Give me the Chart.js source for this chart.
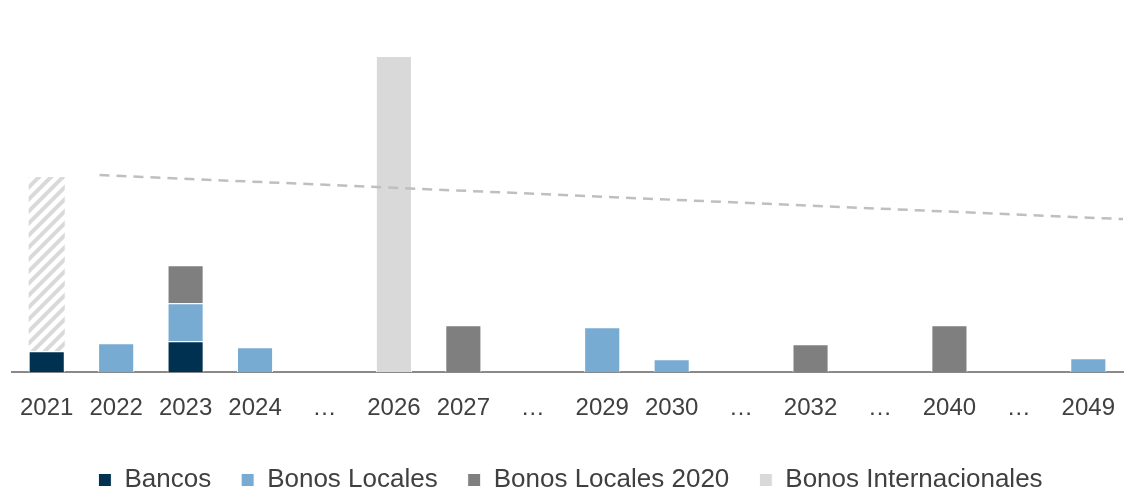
<!DOCTYPE html>
<html>
<head>
<meta charset="utf-8">
<script src="https://cdn.jsdelivr.net/npm/chart.js@4/dist/chart.umd.min.js"></script>
<style>
  html, body { margin: 0; padding: 0; background: #ffffff; }
  #wrap { width: 1129px; height: 491px; position: relative; }
</style>
</head>
<body>
<div id="wrap"><canvas id="chart"></canvas></div>
<script>
// Categorías del eje X
const labels = ["2021", "2022", "2023", "2024", "…", "2026", "2027", "…", "2029", "2030", "…", "2032", "…", "2040", "…", "2049"];

// Vencimientos por fuente (unidades aproximadas)
const bancos = [210, null, 310, null, null, null, null, null, null, null, null, null, null, null, null, null];
const bonosLocales = [null, 290, 380, 250, null, null, null, null, 450, 130, null, null, null, null, null, 140];
const bonosLocales2020 = [null, null, 380, null, null, null, 470, null, null, null, null, 280, null, 470, null, null];
const bonosInternacionales = [null, null, null, null, null, 3160, null, null, null, null, null, null, null, null, null, null];
const pendiente2021 = [1740, null, null, null, null, null, null, null, null, null, null, null, null, null, null, null];

// Línea de referencia punteada (posición en el eje de categorías, valor)
const lineX = [0.76, 15.5];
const lineValues = [1970, 1530];

function makeHatch() {
  const c = document.createElement("canvas");
  c.width = 12;
  c.height = 12;
  const g = c.getContext("2d");
  g.fillStyle = "#ffffff";
  g.fillRect(0, 0, 12, 12);
  g.strokeStyle = "#d9d9d9";
  g.lineWidth = 4;
  g.beginPath();
  g.moveTo(-2, 14); g.lineTo(14, -2);
  g.moveTo(-8, 8); g.lineTo(8, -8);
  g.moveTo(4, 20); g.lineTo(20, 4);
  g.stroke();
  return g.createPattern(c, "repeat");
}

function createChart() {
  const ctx = document.getElementById("chart");
  const hatch = makeHatch();

  const barCommon = {
    type: "bar",
    borderColor: "#ffffff",
    borderWidth: 1,
    barPercentage: 0.52,
    categoryPercentage: 1.0,
    grouped: false,
    stack: "s",
    order: 1,
  };

  new Chart(ctx, {
    type: "bar",
    data: {
      labels: labels,
      datasets: [
        Object.assign({}, barCommon, { label: "Bancos", data: bancos, backgroundColor: "#003150" }),
        Object.assign({}, barCommon, { label: "Bonos Locales", data: bonosLocales, backgroundColor: "#78abd2" }),
        Object.assign({}, barCommon, { label: "Bonos Locales 2020", data: bonosLocales2020, backgroundColor: "#7f7f7f" }),
        Object.assign({}, barCommon, { label: "Bonos Internacionales", data: bonosInternacionales, backgroundColor: "#d9d9d9" }),
        Object.assign({}, barCommon, { label: "hatch", data: pendiente2021, backgroundColor: hatch, borderWidth: 0 }),
        {
          type: "line",
          label: "linea",
          data: lineX.map((x, i) => ({ x: x, y: lineValues[i] })),
          xAxisID: "xl",
          borderColor: "#bfbfbf",
          borderWidth: 2.5,
          borderDash: [10, 7],
          pointRadius: 0,
          fill: false,
          order: 0,
        },
      ],
    },
    options: {
      responsive: true,
      maintainAspectRatio: false,
      animation: false,
      layout: {
        padding: { left: 12, right: 0, top: 22, bottom: -12 },
      },
      scales: {
        x: {
          type: "category",
          offset: true,
          stacked: true,
          grid: { display: false },
          border: { display: true, color: "#898989", width: 2 },
          ticks: {
            color: "#404040",
            font: { family: "Liberation Sans", size: 24 },
            padding: 14,
            maxRotation: 0,
            autoSkip: false,
          },
        },
        xl: {
          type: "linear",
          display: false,
          offset: false,
          min: -0.5,
          max: 15.5,
        },
        y: {
          display: false,
          stacked: true,
          min: 0,
          max: 3500,
        },
      },
      plugins: {
        legend: {
          display: true,
          position: "bottom",
          labels: {
            color: "#404040",
            font: { family: "Liberation Sans", size: 26 },
            boxWidth: 13,
            boxHeight: 13,
            padding: 30,
            filter: (item) => item.text !== "hatch" && item.text !== "linea",
          },
        },
        tooltip: { enabled: false },
      },
    },
  });
}

document.addEventListener("DOMContentLoaded", function () {
  createChart();
});
</script>
</body>
</html>
